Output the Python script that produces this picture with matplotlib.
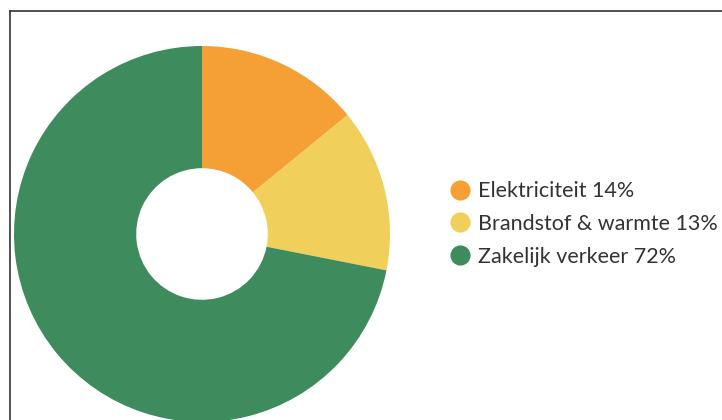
import matplotlib.pyplot as plt
from matplotlib.lines import Line2D

categories = ["Elektriciteit", "Brandstof & warmte", "Zakelijk verkeer"]
label_pct = [14, 13, 72]            # percentages as printed in the legend
slice_sizes = [14.1, 14.0, 71.9]    # slice sizes as drawn in the donut
colors = ["#F4A034", "#F0CF5A", "#3E8C5E"]

plt.rcParams['font.family'] = ['Lato', 'DejaVu Sans']

W, H = 722, 420
fig = plt.figure(figsize=(W / 100, H / 100), dpi=100)

# donut centre and radius in pixels
cx, cy, r = 202, 234, 188
ax = fig.add_axes([(cx - r) / W, (H - cy - r) / H, 2 * r / W, 2 * r / H])
ax.pie(slice_sizes, colors=colors, startangle=90, counterclock=False,
       wedgeprops=dict(width=0.65, linewidth=0))
ax.set_xlim(-1, 1)
ax.set_ylim(-1, 1)
ax.set_aspect('auto')
ax.axis('off')

handles = [Line2D([], [], marker='o', linestyle='', markersize=13.5,
                  markerfacecolor=c, markeredgecolor=c) for c in colors]
labels = [f"{c} {p}%" for c, p in zip(categories, label_pct)]
fig.legend(handles, labels, loc='center left', bbox_to_anchor=(430 / W, 1 - 224 / H),
           frameon=False, fontsize=15.5, labelcolor='#333333',
           handletextpad=0.33, labelspacing=0.6, handlelength=1.0)

# frame lines (left and top only visible in the crop)
fig.add_artist(Line2D([10 / W, 10 / W], [0, 1 - 11 / H], transform=fig.transFigure,
                      color='#333333', linewidth=1.2))
fig.add_artist(Line2D([10 / W, 1], [1 - 11 / H, 1 - 11 / H], transform=fig.transFigure,
                      color='#333333', linewidth=1.2))

fig.savefig("out.png", dpi=100)
